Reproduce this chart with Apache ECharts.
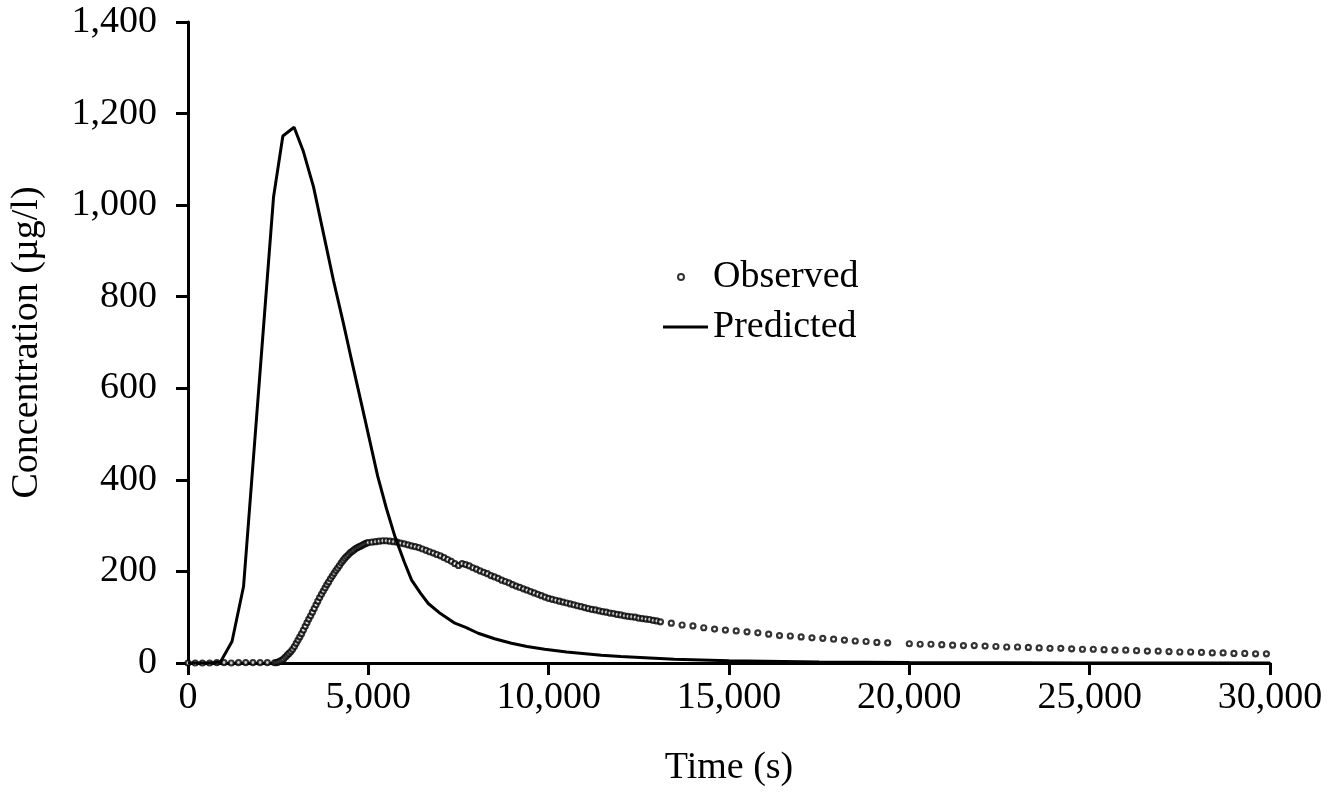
<!DOCTYPE html>
<html>
<head>
<meta charset="utf-8">
<title>Concentration vs time</title>
<script src="https://cdn.jsdelivr.net/npm/echarts@6/dist/echarts.min.js"></script>
<style>
  html, body {margin: 0; padding: 0; background: #fff;}
  #chart {width: 1343px; height: 796px;}
</style>
</head>
<body>
<div id="chart"></div>
<script>
  // observed concentration (µg/l) against time (s)
  var obsTime = [
    0, 200, 400, 600, 800, 1000, 1200, 1400, 1600, 1800, 2000, 2200,
    2400, 2450, 2500, 2550, 2600, 2650, 2700, 2750, 2800, 2850, 2900, 2950,
    3000, 3050, 3100, 3150, 3200, 3250, 3300, 3350, 3400, 3450, 3500, 3550,
    3600, 3650, 3700, 3750, 3800, 3850, 3900, 3950, 4000, 4050, 4100, 4150,
    4200, 4250, 4300, 4350, 4400, 4450, 4500, 4550, 4600, 4650, 4700, 4750,
    4800, 4850, 4900, 4950, 5000,
    5100, 5200, 5300, 5400, 5500, 5600, 5700, 5800, 5900, 6000,
    6100, 6200, 6300, 6400, 6500, 6600, 6700, 6800, 6900, 7000,
    7100, 7200, 7300, 7400, 7500, 7600, 7700, 7800, 7900, 8000,
    8100, 8200, 8300, 8400, 8500, 8600, 8700, 8800, 8900, 9000,
    9100, 9200, 9300, 9400, 9500, 9600, 9700, 9800, 9900, 10000,
    10100, 10200, 10300, 10400, 10500, 10600, 10700, 10800, 10900, 11000,
    11100, 11200, 11300, 11400, 11500, 11600, 11700, 11800, 11900, 12000,
    12100, 12200, 12300, 12400, 12500, 12600, 12700, 12800, 12900, 13000,
    13100, 13400, 13700, 14000, 14300, 14600, 14900, 15200, 15500, 15800, 16100,
    16400, 16700, 17000, 17300, 17600, 17900, 18200, 18500, 18800, 19100, 19400,
    20000, 20300, 20600, 20900, 21200, 21500, 21800, 22100, 22400, 22700, 23000,
    23300, 23600, 23900, 24200, 24500, 24800, 25100, 25400, 25700, 26000, 26300,
    26600, 26900, 27200, 27500, 27800, 28100, 28400, 28700, 29000, 29300, 29600, 29900
  ];
  var obsConc = [
    0, 0, 0, 0, 1, 1, 0, 1, 1, 1, 1, 1,
    0.5, 1, 2, 4, 6, 9, 13, 17, 21, 25, 30, 36,
    43, 50, 57, 64, 72, 80, 88, 96, 103, 111, 119, 127,
    135, 143, 150, 157, 164, 171, 177, 184, 190, 196, 202, 207,
    213, 219, 224, 229, 233, 237, 241, 244, 247, 250, 252, 254,
    256, 258, 260, 262, 263,
    264, 265, 266, 267, 267, 266, 265, 264, 262, 260,
    258, 256, 254, 252, 249, 246, 243, 240, 237, 234,
    230, 226, 222, 217, 213, 217, 215, 212, 208, 205,
    201, 198, 195, 191, 188, 185, 181, 178, 175, 171,
    168, 165, 162, 159, 156, 153, 150, 147, 144, 141,
    139, 137, 135, 133, 131, 129, 127, 125, 123, 121,
    119, 117, 116, 114, 112, 111, 109, 108, 106, 105,
    103, 102, 101, 100, 98, 97, 96, 95, 93, 92,
    90, 87, 83, 81, 77, 74, 72, 70, 68, 66, 63,
    60, 59, 57, 55, 54, 52, 50, 48, 47, 45, 44,
    42, 41, 41, 40, 39, 38, 38, 37, 36, 35, 35,
    34, 33, 32, 32, 31, 30, 30, 29, 28, 28, 27,
    26, 26, 25, 24, 24, 23, 22, 22, 21, 21, 20, 20
  ];
  // model prediction
  var predTime = [
    0, 300, 600, 900, 1220, 1540, 1800, 2100, 2372, 2630, 2942, 3200,
    3480, 3800, 4032, 4300, 4540, 4907, 5259, 5500, 5738, 6000, 6200,
    6450, 6662, 7000, 7400, 7700, 8046, 8500, 8968, 9400, 9890, 10500,
    11460, 12000, 13480, 15000, 17500, 20000, 25000, 30000
  ];
  var predConc = [
    0, 0, 0, 2, 47, 167, 433, 740, 1018, 1151, 1170, 1117,
    1040, 922, 836, 745, 660, 532, 408, 338, 276, 220, 181,
    152, 130, 108, 87, 78, 65, 53, 43, 36, 30, 24,
    17, 14, 8, 5, 2, 1, 0, 0
  ];
  var xMin = 0, xMax = 30000, xStep = 5000,
    yMin = 0, yMax = 1400, yStep = 200
  ;

  var fontFamily = "Liberation Serif", fontSize = 38, ink = "#000";

  function pairs(ts, vs){
    return ts.map(function (t, i) { return [t, vs[i]] })
  }
  function thousands(v){
    return Number(v).toLocaleString("en-US")
  }

  function getOptions(){
    var textStyle = {fontFamily: fontFamily, fontSize: fontSize, color: ink},
      axisLine = {show: true, onZero: false, lineStyle: {color: ink, width: 3}},
      axisTick = {show: true, inside: false, length: 12, lineStyle: {color: ink, width: 3}}
    ;
    return {
      animation: false,
      backgroundColor: "#fff",
      grid: {left: 186, right: 73, top: 22, bottom: 133},
      xAxis: {
        type: "value",
        min: xMin, max: xMax, interval: xStep,
        axisLine: axisLine,
        axisTick: axisTick,
        splitLine: {show: false},
        axisLabel: {
          margin: 16,
          fontFamily: fontFamily, fontSize: fontSize, color: ink,
          formatter: thousands
        },
        name: "Time (s)",
        nameLocation: "middle",
        nameGap: 86,
        nameTextStyle: textStyle
      },
      yAxis: {
        type: "value",
        min: yMin, max: yMax, interval: yStep,
        axisLine: axisLine,
        axisTick: axisTick,
        splitLine: {show: false},
        axisLabel: {
          margin: 31,
          fontFamily: fontFamily, fontSize: fontSize, color: ink,
          formatter: thousands
        },
        name: "Concentration (µg/l)",
        nameLocation: "middle",
        nameGap: 142,
        nameTextStyle: textStyle
      },
      // two legends so each row can sit where the figure has it
      legend: [
        {
          data: ["Observed"], left: 677, top: 258, padding: 0,
          itemWidth: 54, itemHeight: 6, selectedMode: false,
          textStyle: textStyle
        },
        {
          data: [{name: "Predicted", icon: "rect"}], left: 663, top: 308, padding: 0,
          itemWidth: 45, itemHeight: 3, selectedMode: false,
          textStyle: textStyle
        }
      ],
      series: [
        {
          name: "Observed",
          type: "scatter",
          symbol: "circle",
          symbolSize: 5,
          itemStyle: {color: "#fff", borderColor: ink, borderWidth: 2.2},
          z: 2,
          data: pairs(obsTime, obsConc)
        },
        {
          name: "Predicted",
          type: "line",
          symbol: "none",
          showSymbol: false,
          lineStyle: {color: ink, width: 3},
          itemStyle: {color: ink},
          z: 3,
          data: pairs(predTime, predConc)
        }
      ]
    }
  }

  var chartDom = echarts.init(document.getElementById("chart"));
  chartDom.setOption(getOptions());
</script>
</body>
</html>
